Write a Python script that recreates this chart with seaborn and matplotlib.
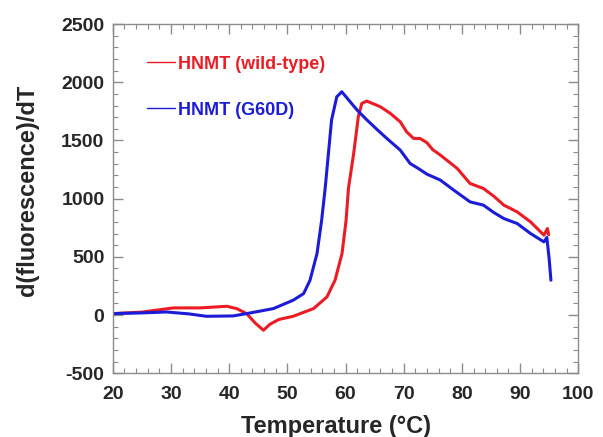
import numpy as np
import pandas as pd
import matplotlib
matplotlib.use("Agg")
import matplotlib.pyplot as plt
from matplotlib.ticker import MultipleLocator
import seaborn as sns

wt_temp = [20, 25, 30.4, 35, 39.6, 41.3, 43, 44.5, 45.9, 47, 48.5, 51, 54.5, 56.8, 58.2,
           59.4, 60.1, 60.5, 61.4, 62.2, 62.8, 63.66, 66, 67.7, 69.4, 70.5, 71.7, 72.8,
           74, 75, 76.3, 79.2, 81.4, 83.7, 85.5, 87.2, 89.5, 91.8, 94.1, 94.7, 94.9]
wt_val = [12, 25, 61, 61, 75, 55, 12, -70, -131, -80, -39, -11, 55, 155, 299,
          528, 815, 1087, 1388, 1703, 1818, 1838, 1789, 1732, 1660, 1574, 1517, 1517,
          1480, 1420, 1374, 1259, 1130, 1087, 1020, 944, 886, 800, 686, 743, 690]

g60d_temp = [20, 25, 29.2, 33, 36.1, 40.7, 43, 47.6, 51, 52.8, 53.9, 55.1, 55.9, 56.5,
             57.6, 58.5, 59.36, 60.8, 62, 63.7, 65.5, 67.1, 69.4, 71.1, 72.5, 74, 76.3,
             78.6, 81.4, 83.7, 85.5, 87.2, 89.5, 91.8, 94.1, 94.6, 95.0, 95.3]
g60d_val = [12, 18, 26, 10, -11, -8, 12, 55, 127, 184, 299, 528, 815, 1087,
            1675, 1875, 1918, 1832, 1760, 1675, 1590, 1517, 1417, 1302, 1259, 1210, 1159,
            1073, 972, 944, 880, 829, 786, 700, 628, 666, 480, 299]

labels = ["HNMT (wild-type)", "HNMT (G60D)"]
colors = ["#ec1c24", "#1c1cd8"]

df = pd.concat([
    pd.DataFrame({"T": wt_temp, "v": wt_val, "s": labels[0]}),
    pd.DataFrame({"T": g60d_temp, "v": g60d_val, "s": labels[1]}),
])

sns.set_style("ticks")
plt.rcParams["font.family"] = ["Liberation Sans", "DejaVu Sans"]
plt.rcParams["font.weight"] = "bold"
plt.rcParams["axes.unicode_minus"] = False

fig = plt.figure(figsize=(6.03, 4.37), dpi=100)
ax = fig.add_axes([0.187, 0.146, 0.772, 0.799])

sns.lineplot(data=df, x="T", y="v", hue="s", palette=colors, sort=False,
             estimator=None, lw=2.2, ax=ax)

ax.set_xlim(20, 100)
ax.set_ylim(-500, 2500)
ax.xaxis.set_major_locator(MultipleLocator(10))
ax.xaxis.set_minor_locator(MultipleLocator(2))
ax.yaxis.set_major_locator(MultipleLocator(500))
ax.yaxis.set_minor_locator(MultipleLocator(100))
for s in ax.spines.values():
    s.set_color("#8c8c8c")
    s.set_linewidth(1.0)
ax.tick_params(which="both", direction="in", top=True, right=True, color="#8c8c8c")
ax.tick_params(which="major", length=7, width=1, labelsize=14)
ax.tick_params(axis="x", which="major", pad=9)
ax.tick_params(axis="y", which="major", pad=6)
ax.tick_params(which="minor", length=3.5, width=0.8)
for t in ax.get_xticklabels() + ax.get_yticklabels():
    t.set_fontweight("bold")

ax.set_xlabel("Temperature (\u00b0C)", fontsize=17, fontweight="bold", labelpad=9)
ax.set_ylabel("d(fluorescence)/dT", fontsize=17, fontweight="bold", labelpad=16)
ax.xaxis.label.set_x(0.48)
ax.yaxis.label.set_y(0.524)

handles, lbls = ax.get_legend_handles_labels()
for h in handles:
    h.set_linewidth(1.0)
leg = ax.legend(handles, lbls, loc="upper left", bbox_to_anchor=(0.0385, 0.956),
                frameon=False, labelcolor="linecolor", handlelength=1.55,
                handletextpad=0.15, labelspacing=1.6,
                prop={"weight": "bold", "size": 13})

fig.savefig("out.png", dpi=100)
